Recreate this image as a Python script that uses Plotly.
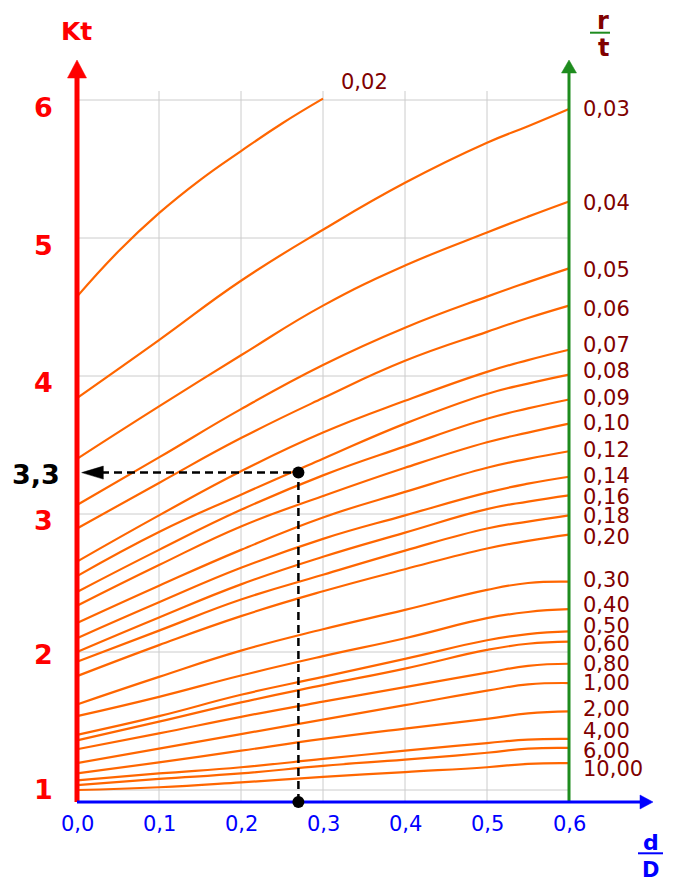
import plotly.graph_objects as go

# ---------------------------------------------------------------------------
# Data: stress concentration factor Kt versus d/D for several r/t ratios
# ---------------------------------------------------------------------------
d_over_D = [0.0, 0.1, 0.2, 0.3, 0.4, 0.5, 0.55, 0.6]

# r/t = 0,02 stops at d/D = 0,3
d_over_D_002 = [0.0, 0.05, 0.1, 0.15, 0.2, 0.25, 0.3]
kt_002 = [4.575, 4.90, 5.18, 5.42, 5.63, 5.83, 6.01]

kt_003 = [3.84, 4.26, 4.69, 5.06, 5.40, 5.69, 5.81, 5.935]
kt_004 = [3.40, 3.78, 4.15, 4.51, 4.80, 5.04, 5.155, 5.265]
kt_005 = [3.065, 3.41, 3.76, 4.08, 4.35, 4.575, 4.68, 4.78]
kt_006 = [2.895, 3.225, 3.55, 3.84, 4.11, 4.32, 4.42, 4.51]
kt_007 = [2.655, 2.99, 3.31, 3.59, 3.82, 4.03, 4.115, 4.19]
kt_008 = [2.55, 2.87, 3.14, 3.40, 3.655, 3.87, 3.945, 4.01]
kt_009 = [2.435, 2.74, 3.03, 3.28, 3.49, 3.69, 3.765, 3.83]
kt_010 = [2.335, 2.63, 2.91, 3.13, 3.335, 3.52, 3.59, 3.655]
kt_012 = [2.21, 2.48, 2.74, 2.975, 3.16, 3.335, 3.40, 3.455]
kt_014 = [2.10, 2.36, 2.61, 2.82, 2.99, 3.155, 3.22, 3.27]
kt_016 = [2.00, 2.25, 2.49, 2.69, 2.865, 3.035, 3.09, 3.135]
kt_018 = [1.93, 2.155, 2.38, 2.56, 2.735, 2.895, 2.945, 2.99]
kt_020 = [1.825, 2.05, 2.26, 2.44, 2.60, 2.75, 2.805, 2.85]
kt_030 = [1.62, 1.82, 2.01, 2.165, 2.305, 2.45, 2.50, 2.51]
kt_040 = [1.535, 1.675, 1.83, 1.97, 2.10, 2.245, 2.29, 2.31]
kt_050 = [1.40, 1.535, 1.69, 1.82, 1.95, 2.085, 2.13, 2.15]
kt_060 = [1.36, 1.495, 1.635, 1.76, 1.88, 2.015, 2.06, 2.075]
kt_080 = [1.295, 1.41, 1.53, 1.64, 1.745, 1.85, 1.90, 1.915]
kt_100 = [1.195, 1.30, 1.405, 1.51, 1.615, 1.72, 1.765, 1.775]
kt_200 = [1.12, 1.20, 1.285, 1.37, 1.445, 1.515, 1.555, 1.57]
kt_400 = [1.07, 1.12, 1.165, 1.225, 1.285, 1.34, 1.365, 1.37]
kt_600 = [1.035, 1.08, 1.12, 1.175, 1.22, 1.27, 1.30, 1.305]
kt_1000 = [1.00, 1.02, 1.055, 1.095, 1.13, 1.165, 1.19, 1.195]

rt_labels = ["0,03", "0,04", "0,05", "0,06", "0,07", "0,08", "0,09", "0,10",
             "0,12", "0,14", "0,16", "0,18", "0,20", "0,30", "0,40", "0,50",
             "0,60", "0,80", "1,00", "2,00", "4,00", "6,00", "10,00"]
rt_curves = [kt_003, kt_004, kt_005, kt_006, kt_007, kt_008, kt_009, kt_010,
             kt_012, kt_014, kt_016, kt_018, kt_020, kt_030, kt_040, kt_050,
             kt_060, kt_080, kt_100, kt_200, kt_400, kt_600, kt_1000]
# vertical nudge (px) of each r/t label so crowded labels stay readable
rt_label_shift = [0, -2, -2, -3, 4.5, 3.5, 1, 1, 1, 1, -2, -1, -2,
                  2, 4, 5, -2, 0, 0, 2.5, 8, -3, -6]

kt_ticks = [1, 2, 3, 4, 5, 6]
kt_tick_shift = [1, -2.5, -6.5, -6.5, -7, -7]
dD_ticks = [0.0, 0.1, 0.2, 0.3, 0.4, 0.5, 0.6]
dD_tick_text = ["0,0", "0,1", "0,2", "0,3", "0,4", "0,5", "0,6"]

# worked example: d/D = 0,27 with r/t = 0,08 gives Kt = 3,3
example_dD = 0.27
example_kt = 3.3

# ---------------------------------------------------------------------------
# Geometry of the drawing area (pixels <-> data)
# ---------------------------------------------------------------------------
W, H = 674, 881
XPX0, XSCALE = 77.0, 820.0   # pixel of d/D = 0, pixels per unit of d/D
YPX6, YSCALE = 100.0, 138.0  # pixel of Kt = 6, pixels per unit of Kt


def dx(px):
    return (px - XPX0) / XSCALE


def dy(py):
    return 6.0 - (py - YPX6) / YSCALE


def wx(px):
    return px / XSCALE


def wy(px):
    return px / YSCALE


AXIS_Y = dy(802)
ORANGE = "#FF6600"
RED = "#FF0000"
GREEN = "#1E8C1E"
BLUE = "#0000FF"
MAROON = "#800000"
GRID = "#CCCCCC"
FONT = "DejaVu Sans"

fig = go.Figure()

# grid
shapes = []
for k in kt_ticks:
    shapes.append(dict(type="line", xref="x", yref="y", x0=0, x1=0.6, y0=k, y1=k,
                       line=dict(color=GRID, width=1), layer="below"))
for d in dD_ticks[1:-1]:
    shapes.append(dict(type="line", xref="x", yref="y", x0=d, x1=d, y0=AXIS_Y, y1=dy(91),
                       line=dict(color=GRID, width=1), layer="below"))

# fraction bars of the axis titles
shapes.append(dict(type="line", xref="x", yref="y", x0=dx(590), x1=dx(610),
                   y0=dy(32.7), y1=dy(32.7), line=dict(color=GREEN, width=2)))
shapes.append(dict(type="line", xref="x", yref="y", x0=dx(638), x1=dx(663),
                   y0=dy(853.3), y1=dy(853.3), line=dict(color=BLUE, width=2)))

# curves
line_style = dict(color=ORANGE, width=2.2, shape="spline", smoothing=1.3)
fig.add_trace(go.Scatter(x=d_over_D_002, y=kt_002, mode="lines", line=line_style,
                         hoverinfo="skip"))
for curve in rt_curves:
    fig.add_trace(go.Scatter(x=d_over_D, y=curve, mode="lines", line=line_style,
                             hoverinfo="skip"))


def add_line(xs, ys, color, width, dash="solid"):
    fig.add_trace(go.Scatter(x=xs, y=ys, mode="lines", hoverinfo="skip",
                             line=dict(color=color, width=width, dash=dash)))


def add_triangle(xs, ys, color):
    fig.add_trace(go.Scatter(x=xs + [xs[0]], y=ys + [ys[0]], mode="lines",
                             fill="toself", fillcolor=color, hoverinfo="skip",
                             line=dict(color=color, width=0.5)))


# Kt axis (red)
add_line([0, 0], [AXIS_Y, dy(76)], RED, 5)
add_triangle([-wx(9.5), wx(9.5), 0], [dy(78), dy(78), dy(60)], RED)

# r/t axis (green)
add_line([0.6, 0.6], [AXIS_Y, dy(72)], GREEN, 3)
add_triangle([0.6 - wx(7.5), 0.6 + wx(7.5), 0.6], [dy(73), dy(73), dy(60)], GREEN)

# d/D axis (blue)
add_line([0, dx(641)], [AXIS_Y, AXIS_Y], BLUE, 3)
add_triangle([dx(640), dx(640), dx(653)], [AXIS_Y - wy(7), AXIS_Y + wy(7), AXIS_Y], BLUE)

# reading of the example
add_line([dx(101), example_dD], [example_kt, example_kt], "black", 2.5, "8px,5px")
add_line([example_dD, example_dD], [AXIS_Y, example_kt], "black", 2.5, "8px,5px")
add_triangle([dx(81.7), dx(103.3), dx(103.3)],
             [example_kt, example_kt + wy(6.5), example_kt - wy(6.5)], "black")
fig.add_trace(go.Scatter(x=[example_dD, example_dD], y=[example_kt, AXIS_Y], mode="markers",
                         marker=dict(color="black", size=12), hoverinfo="skip"))

# text
ann = []
for k, s in zip(kt_ticks, kt_tick_shift):
    ann.append(dict(x=dx(43.5), y=k, yshift=s, text=f"<b>{k}</b>", xanchor="center",
                    yanchor="middle", font=dict(family=FONT, size=27, color=RED)))
for d, t in zip(dD_ticks, dD_tick_text):
    ann.append(dict(x=d, y=dy(824), text=t, xanchor="center", yanchor="middle",
                    font=dict(family=FONT, size=21, color=BLUE)))
for lab, curve, s in zip(rt_labels, rt_curves, rt_label_shift):
    ann.append(dict(x=dx(581), y=curve[-1], yshift=s, text=lab, xanchor="left",
                    yanchor="middle", font=dict(family=FONT, size=21, color=MAROON)))
ann.append(dict(x=dx(339), y=dy(81.7), text="0,02", xanchor="left", yanchor="middle",
                font=dict(family=FONT, size=21, color=MAROON)))
ann.append(dict(x=dx(76), y=dy(31), text="<b>Kt</b>", xanchor="center", yanchor="middle",
                font=dict(family=FONT, size=25, color=RED)))
ann.append(dict(x=dx(36.3), y=example_kt, yshift=-2, text="<b>3,3</b>", xanchor="center",
                yanchor="middle", font=dict(family=FONT, size=27, color="black")))
ann.append(dict(x=dx(603), y=dy(21), text="<b>r</b>", xanchor="center", yanchor="middle",
                font=dict(family=FONT, size=24, color=MAROON)))
ann.append(dict(x=dx(603), y=dy(48), text="<b>t</b>", xanchor="center", yanchor="middle",
                font=dict(family=FONT, size=24, color=MAROON)))
ann.append(dict(x=dx(650.5), y=dy(842), text="<b>d</b>", xanchor="center", yanchor="middle",
                font=dict(family=FONT, size=22, color=BLUE)))
ann.append(dict(x=dx(650.5), y=dy(870), text="<b>D</b>", xanchor="center", yanchor="middle",
                font=dict(family=FONT, size=21, color=BLUE)))
for a in ann:
    a["showarrow"] = False
    a["xref"] = "x"
    a["yref"] = "y"

fig.update_layout(
    width=W, height=H,
    margin=dict(l=0, r=0, t=0, b=0),
    paper_bgcolor="white", plot_bgcolor="white",
    showlegend=False,
    xaxis=dict(range=[dx(0), dx(W)], visible=False, fixedrange=True),
    yaxis=dict(range=[dy(H), dy(0)], visible=False, fixedrange=True),
    shapes=shapes,
    annotations=ann,
)

fig.write_html("out.html", config={"displayModeBar": False})
